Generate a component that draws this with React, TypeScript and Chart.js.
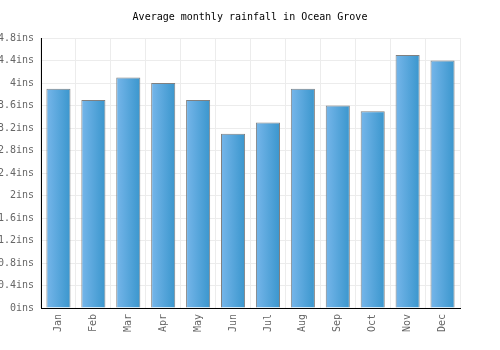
import React, { useEffect, useRef } from "react";
import { Chart, registerables } from "chart.js";

Chart.register(...registerables);

const TITLE = "Average monthly rainfall in Ocean Grove";
const months = ["Jan", "Feb", "Mar", "Apr", "May", "Jun", "Jul", "Aug", "Sep", "Oct", "Nov", "Dec"];
const rainfall = [3.9, 3.7, 4.1, 4.0, 3.7, 3.1, 3.3, 3.9, 3.6, 3.5, 4.5, 4.4];
const yMax = 4.8;
const yStep = 0.4;
const unit = "ins";

const FONT = "'DejaVu Sans Mono', monospace";
const BAR_PCT = 0.69;

const titlePlugin = {
  id: "centerTitle",
  afterDraw(chart: any) {
    const ctx = chart.ctx;
    ctx.save();
    ctx.font = `10px ${FONT}`;
    ctx.fillStyle = "#000";
    ctx.textAlign = "center";
    ctx.textBaseline = "middle";
    ctx.fillText(TITLE, chart.width / 2, 17);
    ctx.restore();
  },
};

export default function App() {
  const ref = useRef<HTMLCanvasElement>(null);
  useEffect(() => {
    document.body.style.margin = "0";
    const canvas = ref.current!;
    const chart = new Chart(canvas, {
      type: "bar",
      data: {
        labels: months,
        datasets: [
          {
            data: rainfall,
            backgroundColor: (c: any) => {
              const ch = c.chart;
              const xs = ch.scales && ch.scales.x;
              if (!ch.chartArea || !xs || c.dataIndex === undefined) return "#55a6dc";
              const cx = xs.getPixelForValue(c.dataIndex);
              const w = (xs.width / months.length) * BAR_PCT;
              const g = ch.ctx.createLinearGradient(cx - w / 2, 0, cx + w / 2, 0);
              g.addColorStop(0, "#76b6ea");
              g.addColorStop(1, "#3a96cd");
              return g;
            },
            borderColor: "#808080",
            borderWidth: 1,
            borderSkipped: "bottom",
            barPercentage: BAR_PCT,
            categoryPercentage: 1,
          },
        ],
      },
      options: {
        animation: false,
        responsive: false,
        layout: { padding: { top: 38, right: 40, left: 0, bottom: 0 } },
        plugins: {
          legend: { display: false },
          title: { display: false },
          tooltip: { enabled: false },
        },
        scales: {
          x: {
            offset: true,
            grid: { offset: true, color: "#ececec", drawTicks: false },
            border: { color: "#000", width: 1 },
            ticks: {
              color: "#666",
              font: { family: FONT, size: 10 },
              minRotation: 90,
              maxRotation: 90,
              padding: 6,
            },
            afterFit: (s: any) => {
              s.height = 42;
            },
          },
          y: {
            min: 0,
            max: yMax,
            grid: { color: "#ececec", drawTicks: false },
            border: { color: "#000", width: 1 },
            ticks: {
              stepSize: yStep,
              color: "#666",
              font: { family: FONT, size: 10 },
              padding: 7,
              callback: (v: any) => `${Number(Number(v).toFixed(1))}${unit}`,
            },
            afterFit: (s: any) => {
              s.width = 41;
            },
          },
        },
      },
      plugins: [titlePlugin],
    });
    return () => chart.destroy();
  }, []);
  return (
    <div style={{ width: 500, height: 350 }}>
      <canvas ref={ref} width={500} height={350} style={{ display: "block" }} />
    </div>
  );
}
